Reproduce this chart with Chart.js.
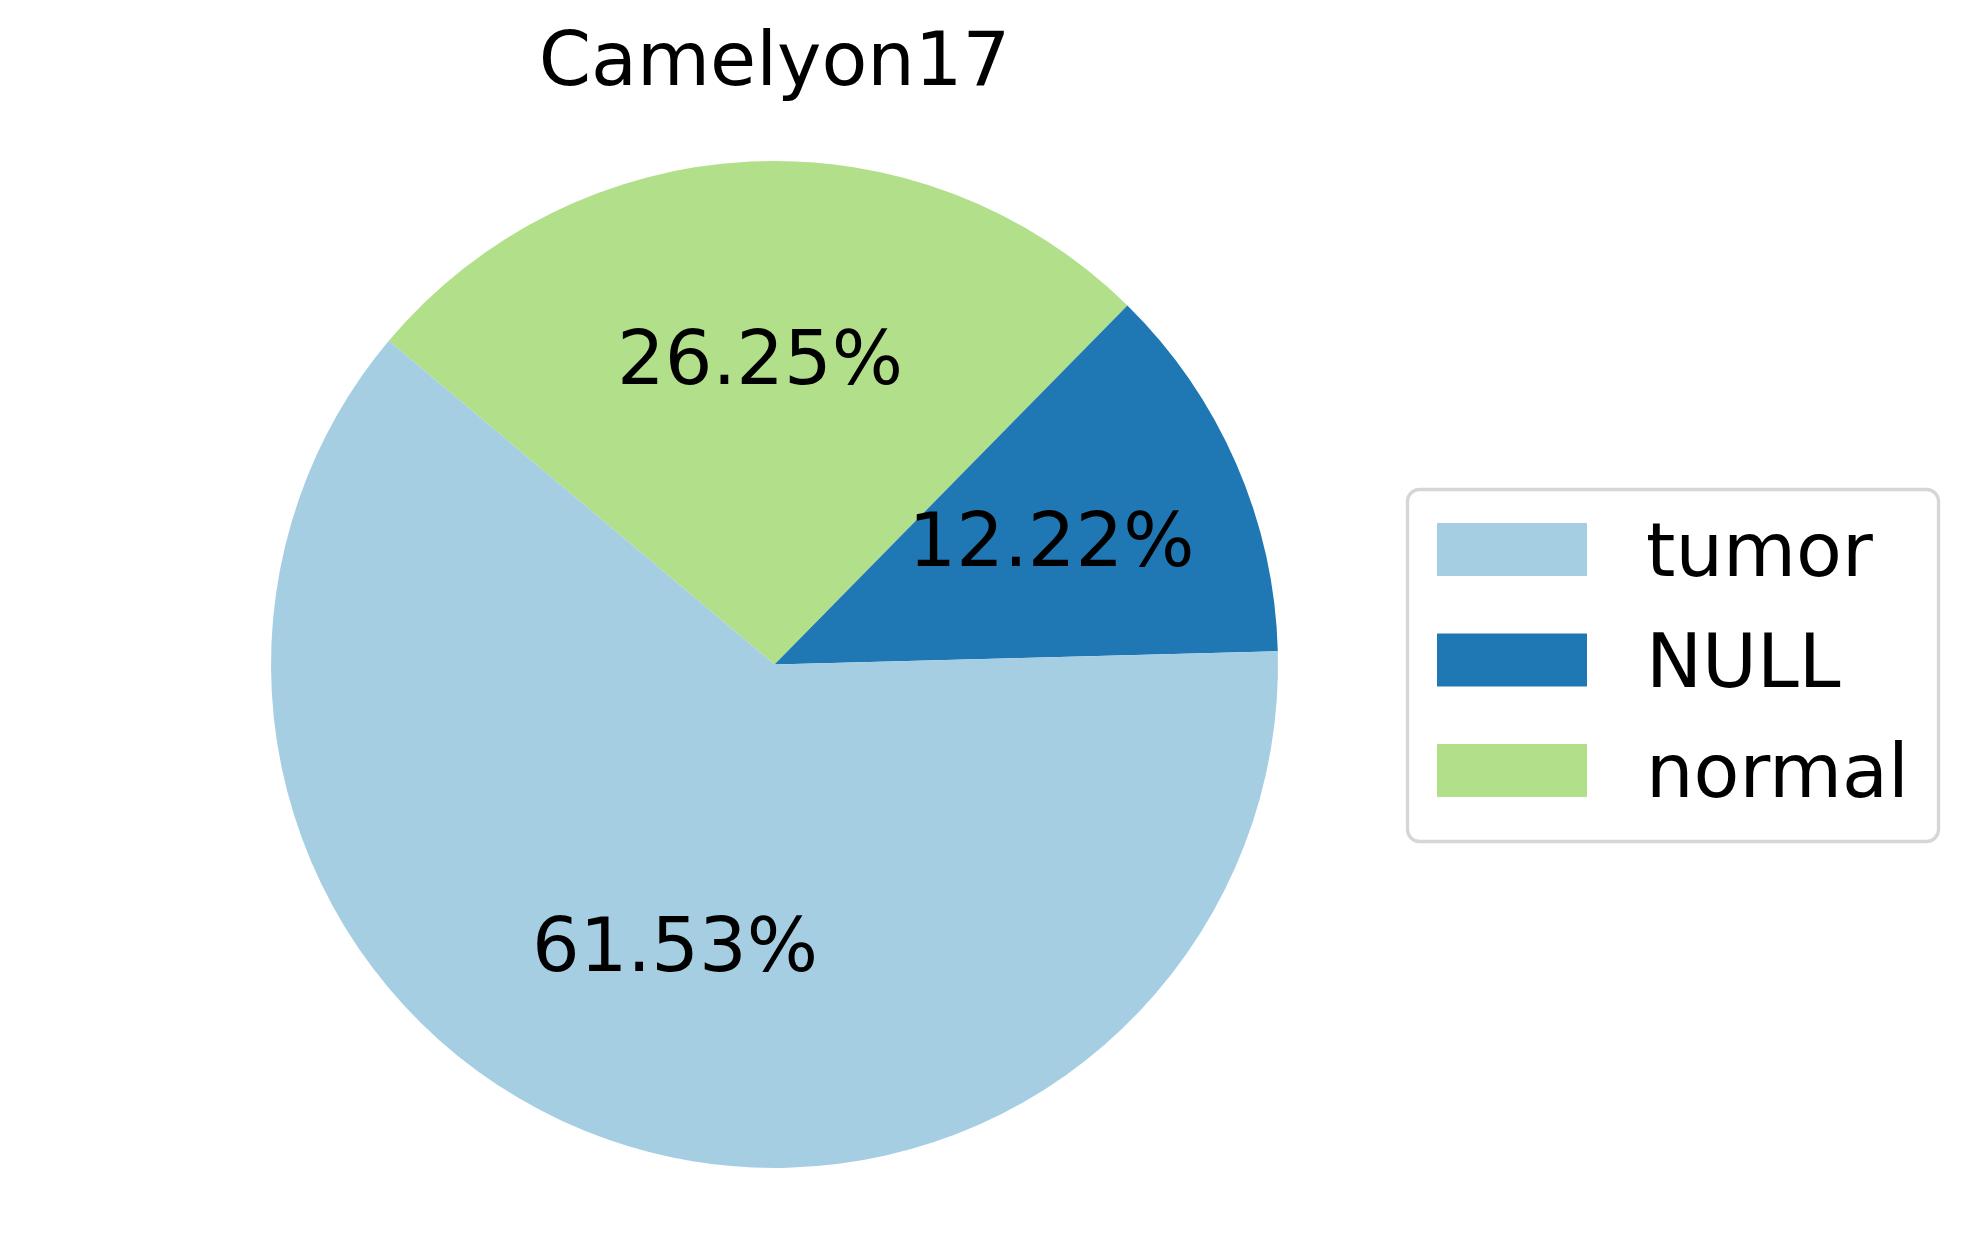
<!DOCTYPE html>
<html>
<head>
<meta charset="utf-8">
<script src="https://cdn.jsdelivr.net/npm/chart.js@4"></script>
<style>
  html, body { margin: 0; padding: 0; background: #fff; }
  canvas { display: block; }
</style>
</head>
<body>
<canvas id="grafica_camelyon" width="1969" height="1250"></canvas>
<script>
// data (percent of patches)
const categories = ['tumor', 'NULL', 'normal'];
const values = [61.53, 12.22, 26.25];
const colors = ['#a6cee3', '#1f78b4', '#b2df8a'];

const FONT = "'DejaVu Sans', sans-serif";

// matplotlib goes counter-clockwise, chart.js goes clockwise -> feed it reversed
const order = categories.map((c, i) => i).reverse();

// percent labels at 0.6 of the radius, like autopct
const pctLabels = {
  id: 'pctLabels',
  afterDatasetsDraw(chart) {
    const ctx = chart.ctx;
    const meta = chart.getDatasetMeta(0);
    ctx.save();
    ctx.font = '75px ' + FONT;
    ctx.fillStyle = '#000';
    ctx.textAlign = 'center';
    ctx.textBaseline = 'middle';
    meta.data.forEach((arc, i) => {
      const p = arc.getProps(['x', 'y', 'startAngle', 'endAngle', 'outerRadius'], true);
      const mid = (p.startAngle + p.endAngle) / 2;
      const r = p.outerRadius * 0.6;
      const v = chart.data.datasets[0].data[i];
      ctx.fillText(v.toFixed(2) + '%', p.x + Math.cos(mid) * r, p.y + Math.sin(mid) * r + 2);
    });
    ctx.restore();
  }
};

// boxed legend on the right, in the original order
const sideLegend = {
  id: 'sideLegend',
  afterDraw(chart) {
    const ctx = chart.ctx;
    ctx.save();
    ctx.strokeStyle = '#d6d6d6';
    ctx.lineWidth = 3.3;
    ctx.beginPath();
    ctx.roundRect(1407.5, 489.5, 531, 352, 12);
    ctx.stroke();
    ctx.font = '75px ' + FONT;
    ctx.textBaseline = 'alphabetic';
    categories.forEach((c, i) => {
      const top = 523 + i * 110.5;
      ctx.fillStyle = colors[i];
      ctx.fillRect(1437, top, 150, 53);
      ctx.fillStyle = '#000';
      ctx.fillText(c, 1646, top + 53);
    });
    ctx.restore();
  }
};

const ctx = document.getElementById('grafica_camelyon').getContext('2d');
new Chart(ctx, {
  type: 'pie',
  data: {
    labels: order.map(i => categories[i]),
    datasets: [{
      label: 'Camelyon17',
      data: order.map(i => values[i]),
      backgroundColor: order.map(i => colors[i]),
      borderWidth: 0,
      hoverOffset: 0,
      offset: 0
    }]
  },
  options: {
    responsive: false,
    animation: false,
    events: [],
    devicePixelRatio: 1,
    rotation: -50,
    layout: {
      padding: { left: 271, right: 691, top: 0, bottom: 82 }
    },
    plugins: {
      legend: { display: false },
      tooltip: { enabled: false },
      title: {
        display: true,
        text: 'Camelyon17',
        color: '#000',
        font: { family: FONT, size: 75, weight: 'normal', lineHeight: 1.2 },
        padding: { top: 21, bottom: 50 }
      }
    }
  },
  plugins: [pctLabels, sideLegend]
});
</script>
</body>
</html>
